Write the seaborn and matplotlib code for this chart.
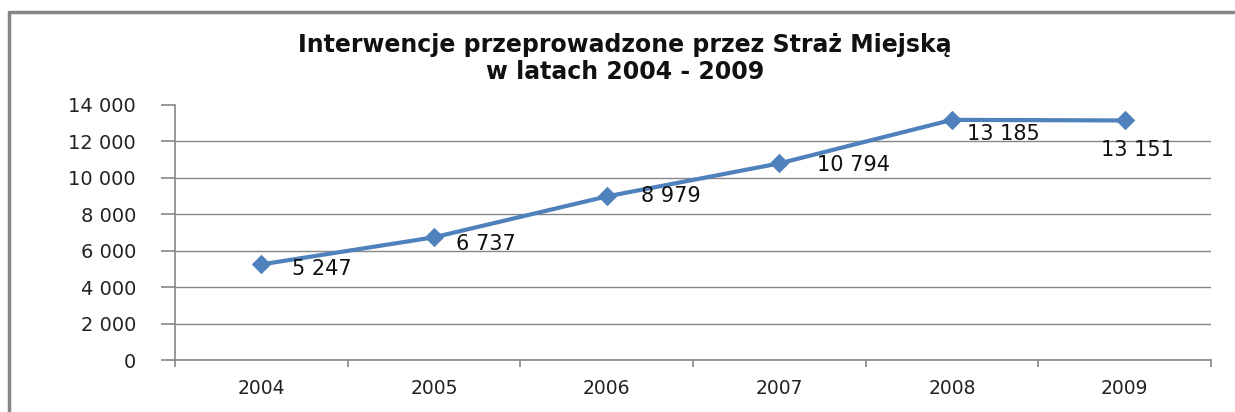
import matplotlib
matplotlib.use('Agg')
import matplotlib.pyplot as plt
import numpy as np
import pandas as pd
import seaborn as sns
from matplotlib.lines import Line2D
from matplotlib.ticker import FixedLocator

years = ['2004', '2005', '2006', '2007', '2008', '2009']
values = [5247, 6737, 8979, 10794, 13185, 13151]
value_labels = ['5 247', '6 737', '8 979', '10 794', '13 185', '13 151']
y_ticks = [0, 2000, 4000, 6000, 8000, 10000, 12000, 14000]
y_tick_labels = ['0', '2 000', '4 000', '6 000', '8 000', '10 000', '12 000', '14 000']
title_lines = ['Interwencje przeprowadzone przez Straż Miejską', 'w latach 2004 - 2009']

# label offsets in points (dx, dy)
label_offsets = [(22, -3), (16, -5), (25, 0), (27, -1), (11, -10), (-17, -21)]

sns.set_style('white')
plt.rcParams['font.family'] = ['DejaVu Sans']

W, H = 1235, 412
fig = plt.figure(figsize=(W / 100, H / 100), dpi=100)
ax = fig.add_axes([175 / W, 1 - 360 / H, (1211 - 175) / W, (360 - 105) / H])

df = pd.DataFrame({'pos': np.arange(len(years)), 'value': values})
sns.lineplot(data=df, x='pos', y='value', ax=ax, color='#4F81BD', linewidth=3,
             marker='D', markersize=9, markeredgecolor='#4F81BD', clip_on=False)

ax.set_xlim(-0.5, len(years) - 0.5)
ax.set_ylim(0, 14000)
ax.set_yticks(y_ticks)
ax.set_yticklabels(y_tick_labels, fontsize=14)
ax.set_xticks(np.arange(len(years)))
ax.set_xticklabels(years, fontsize=13.5)
ax.xaxis.set_minor_locator(FixedLocator(np.arange(-0.5, len(years), 1)))
ax.tick_params(axis='x', which='major', bottom=True, length=0, pad=14, labelcolor='#222222')
ax.tick_params(axis='x', which='minor', bottom=True, length=5, width=1.2,
               color='#868686', direction='out')
ax.tick_params(axis='y', left=True, length=10, width=1.2, color='#868686',
               direction='out', pad=18, labelcolor='#222222')
ax.set_xlabel('')
ax.set_ylabel('')

ax.grid(axis='y', color='#868686', linewidth=1)
ax.yaxis.get_gridlines()[-1].set_visible(False)
ax.set_axisbelow(True)
for side in ['top', 'right']:
    ax.spines[side].set_visible(False)
for side in ['left', 'bottom']:
    ax.spines[side].set_color('#868686')
    ax.spines[side].set_linewidth(1.2)

for i, (lab, off) in enumerate(zip(value_labels, label_offsets)):
    ax.annotate(lab, (i, values[i]), xytext=off, textcoords='offset points',
                ha='left', va='center', fontsize=15, color='#111111')

fig.text(625 / W, 1 - 45 / H, title_lines[0], ha='center', va='center',
         fontsize=17, fontweight='bold', color='#111111')
fig.text(625 / W, 1 - 72 / H, title_lines[1], ha='center', va='center',
         fontsize=17, fontweight='bold', color='#111111')

# outer chart frame (left and top edges visible in the crop)
fig.add_artist(Line2D([9 / W, 9 / W], [0, 1 - 12 / H], transform=fig.transFigure,
                      color='#868686', linewidth=2.5))
fig.add_artist(Line2D([9 / W, 1], [1 - 12 / H, 1 - 12 / H], transform=fig.transFigure,
                      color='#868686', linewidth=2.5))

fig.savefig('out.png', dpi=100)
